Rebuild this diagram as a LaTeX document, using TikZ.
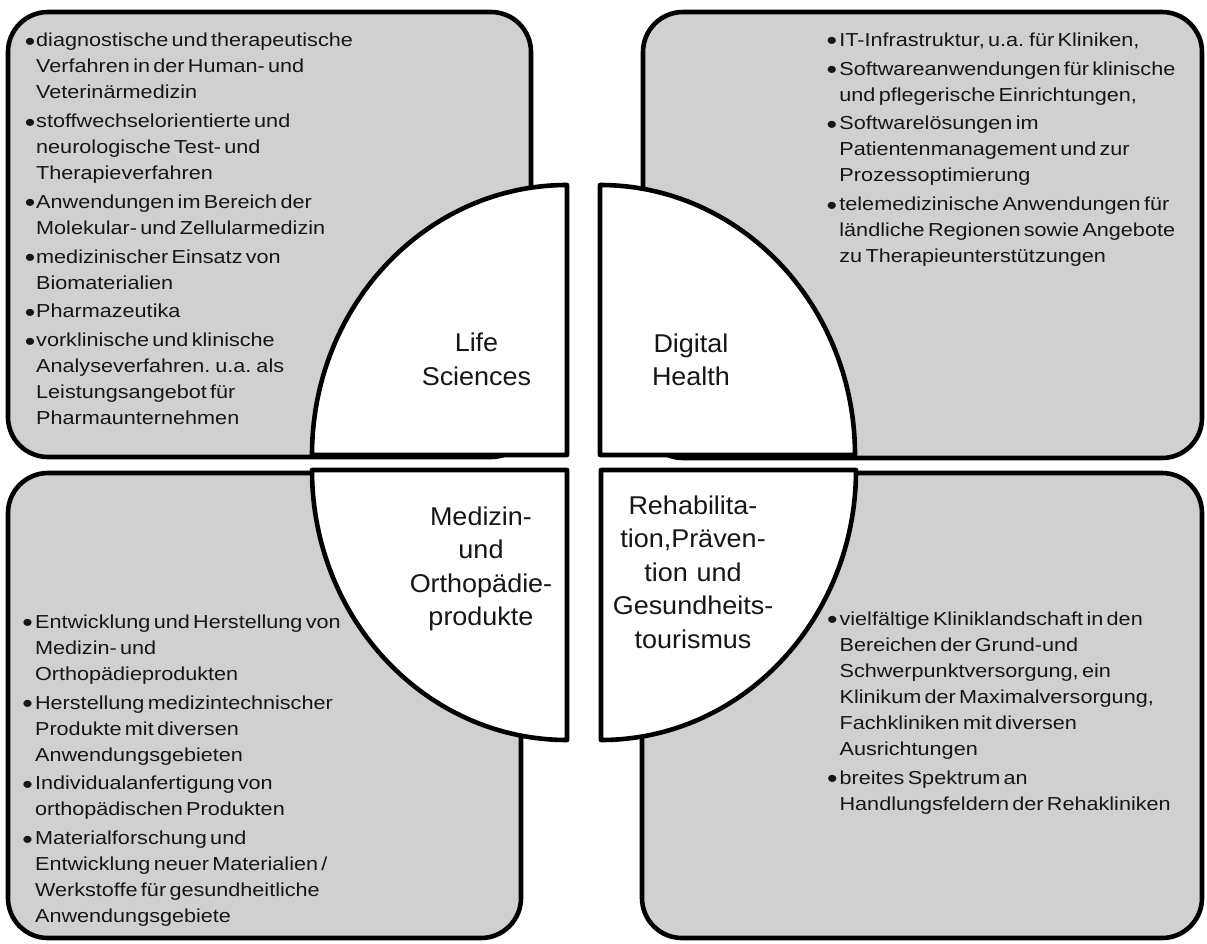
\documentclass[tikz,border=0pt]{standalone}
\usepackage{fontspec}
\setmainfont{Liberation Sans}
\newfontfamily\bodyfont{Liberation Sans}[FakeStretch=1.15]
\newfontfamily\labfont{Liberation Sans}[FakeStretch=1.05]
\definecolor{boxgray}{RGB}{208,208,208}
\definecolor{txt}{RGB}{22,22,22}
\newlength\bind
\setlength\bind{12pt}
\newcommand\bdot{\raisebox{-3.6pt}[0pt][0pt]{\fontsize{26pt}{26pt}\selectfont\char"2022}}
\newcommand\bitem[1]{\noindent\hangindent=\bind\hangafter=1\makebox[\bind][l]{\bdot}#1\par}
\newcommand\btext{\bodyfont\fontsize{18.8pt}{26pt}\selectfont\setlength\parskip{2.8pt}}
\newcommand\fstrut{\rule{0pt}{20pt}}
\newcommand\lstrut{\rule{0pt}{26pt}}
\begin{document}
\begin{tikzpicture}[x=1pt,y=-1pt,
  bigbox/.style={draw=black,line width=4.6pt,fill=boxgray,rounded corners=40pt},
  quarter/.style={draw=black,line width=4.6pt,fill=white,line join=round},
  bodytext/.style={anchor=north west,inner sep=0pt,text width=430pt,align=left,text=txt},
  labeltext/.style={anchor=north,inner sep=0pt,text width=230pt,align=center,text=txt,
    font={\labfont\fontsize{25.7pt}{33.5pt}\selectfont}}]
\useasboundingbox (0,0) rectangle (1207,943);
% background boxes
\draw[bigbox] (8,12) rectangle (531,457);
\draw[bigbox] (643,12) rectangle (1202,458);
\draw[bigbox] (8,473) rectangle (521,938);
\draw[bigbox] (642,473) rectangle (1202,938);
% quarter shapes
\draw[quarter] (567,185) -- (567,455) -- (312,455)
  arc[start angle=180,end angle=90,x radius=255pt,y radius=270pt] -- cycle;
\draw[quarter] (600,185) -- (600,455) -- (855,455)
  arc[start angle=0,end angle=90,x radius=255pt,y radius=270pt] -- cycle;
\draw[quarter] (567,470) -- (567,740)
  arc[start angle=270,end angle=180,x radius=255pt,y radius=270pt] -- cycle;
\draw[quarter] (601,470) -- (856,470)
  arc[start angle=0,end angle=-90,x radius=255pt,y radius=270pt] -- cycle;
% labels
\node[labeltext] (life) at (476.5,325.7) {\lstrut Life\\Sciences};
\node[labeltext] (digital) at (691,326) {\lstrut Digital\\Health};
\node[labeltext] (medizin) at (481,499) {\lstrut Medizin-\\und\\Orthopädie-\\produkte};
\node[labeltext] (reha) at (693,488) {\lstrut Rehabilita-\\tion,Präven-\\tion und\\Gesundheits-\\tourismus};
% body texts
\node[bodytext] (tltext) at (24.6,26.5) {\btext\setlength\bind{11.4pt}%
\bitem{\fstrut diagnostische und therapeutische\newline Verfahren in der Human- und\newline Veterinärmedizin}%
\bitem{stoffwechselorientierte und\newline neurologische Test- und\newline Therapieverfahren}%
\bitem{Anwendungen im Bereich der\newline Molekular- und Zellularmedizin}%
\bitem{medizinischer Einsatz von\newline Biomaterialien}%
\bitem{Pharmazeutika}%
\bitem{vorklinische und klinische\newline Analyseverfahren. u.a. als\newline Leistungsangebot für\newline Pharmaunternehmen}};
\node[bodytext] (trtext) at (826.4,26) {\btext\setlength\bind{12.8pt}%
\bitem{\fstrut IT-Infrastruktur, u.a. für Kliniken,}%
\bitem{Softwareanwendungen für klinische\newline und pflegerische Einrichtungen,}%
\bitem{Softwarelösungen im\newline Patientenmanagement und zur\newline Prozessoptimierung}%
\bitem{telemedizinische Anwendungen für\newline ländliche Regionen sowie Angebote\newline zu Therapieunterstützungen}};
\node[bodytext] (bltext) at (22.1,608) {\btext\setlength\bind{12.8pt}%
\bitem{\fstrut Entwicklung und Herstellung von\newline Medizin- und\newline Orthopädieprodukten}%
\bitem{Herstellung medizintechnischer\newline Produkte mit diversen\newline Anwendungsgebieten}%
\bitem{Individualanfertigung von\newline orthopädischen Produkten}%
\bitem{Materialforschung und\newline Entwicklung neuer Materialien /\newline Werkstoffe für gesundheitliche\newline Anwendungsgebiete}};
\node[bodytext] (brtext) at (826.9,605) {\btext\setlength\bind{12.5pt}%
\bitem{\fstrut vielfältige Kliniklandschaft in den\newline Bereichen der Grund-und\newline Schwerpunktversorgung, ein\newline Klinikum der Maximalversorgung,\newline Fachkliniken mit diversen\newline Ausrichtungen}%
\bitem{breites Spektrum an\newline Handlungsfeldern der Rehakliniken}};
\end{tikzpicture}
\end{document}
